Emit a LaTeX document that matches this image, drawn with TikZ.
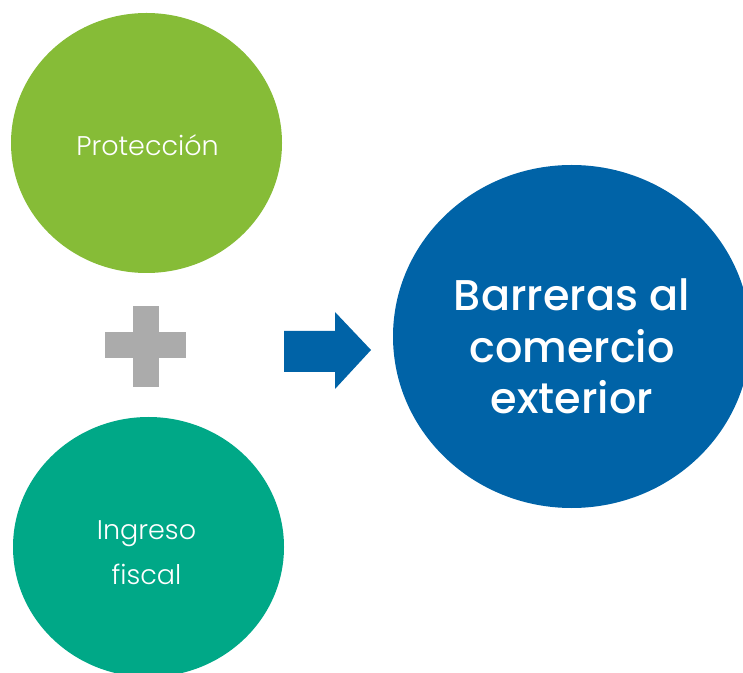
\documentclass[tikz,border=0pt]{standalone}
\usepackage{fontspec}
\setmainfont{Poppins}
\newfontfamily\plight{Poppins Light}
\newfontfamily\pmed{Poppins Medium}
\usetikzlibrary{shapes.geometric}
\definecolor{cgreen}{HTML}{86BC37}
\definecolor{cteal}{HTML}{00A887}
\definecolor{cblue}{HTML}{0063A7}
\definecolor{cgray}{HTML}{ABABAB}
\tikzset{
  lighttext/.style={text=white, font=\plight\fontsize{27}{45}\selectfont, align=center, inner sep=0pt},
  boldtext/.style={text=white, font=\pmed\fontsize{43}{51.5}\selectfont, align=center, inner sep=0pt}
}
\begin{document}
\begin{tikzpicture}[x=1pt,y=1pt]
\useasboundingbox (0,0) rectangle (743,672);
% circles (y = 672 - image y)
\fill[cgreen] (146.5,529) ellipse [x radius=135.5, y radius=130];
\fill[cteal] (148.5,125) ellipse [x radius=135.5, y radius=130];
\fill[cblue] (571.7,335.5) ellipse [x radius=178.7, y radius=171.5];
\node[lighttext, anchor=base] (prot) at (147.5,516) {Protección};
\node[lighttext] (ing) at (146.5,119) {Ingreso\\fiscal};
\node[boldtext] (barr) at (572,325.5) {Barreras al\\comercio\\exterior};
% plus sign
\fill[cgray] (105,314) rectangle (186,340);
\fill[cgray] (133,285) rectangle (159,366);
% arrow
\fill[cblue] (284,341) -- (335,341) -- (335,360) -- (371,322) -- (335,283) -- (335,300) -- (284,300) -- cycle;
\end{tikzpicture}
\end{document}
